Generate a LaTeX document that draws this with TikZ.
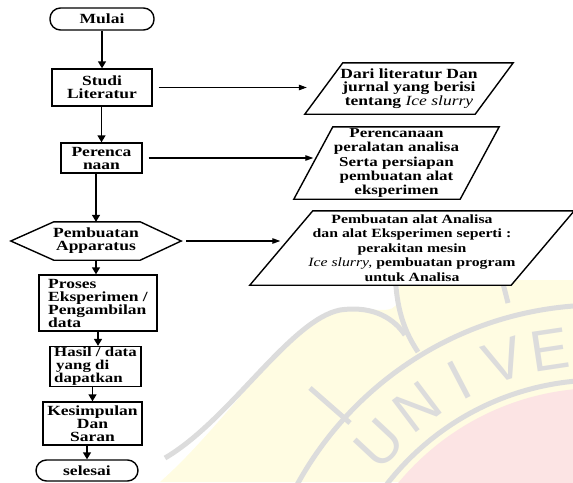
\documentclass[tikz,border=0pt]{standalone}
\usepackage{fontspec}
\setmainfont{Liberation Serif}[FakeStretch=1.25]
\setsansfont{Liberation Sans}
\usetikzlibrary{arrows.meta,calc}
\pgfdeclarelayer{bg}
\pgfsetlayers{bg,main}

\definecolor{wmY}{HTML}{FFFCE2}
\definecolor{wmG}{HTML}{DCDCDC}
\definecolor{wmP}{HTML}{FCE4E4}

\tikzset{
  lbl/.style={font=\bfseries\fontsize{14}{13}\selectfont, align=center, inner sep=0pt},
  box/.style={lbl, draw, line width=1.4pt, fill=white},
  term/.style={box, rounded corners=10.5pt},
  vflow/.style={line width=1.5pt, -{Triangle[length=7pt,width=8pt]}},
  hflow/.style={line width=1.1pt, -{Triangle[length=8pt,width=5.5pt]}},
  shapeline/.style={line width=1.4pt, fill=white},
  wmline/.style={wmG, line width=5pt},
  wmletter/.style={wmG, font=\sffamily\fontsize{58}{58}\selectfont, inner sep=0pt},
}

\begin{document}
\begin{tikzpicture}[x=1pt,y=-1pt]
\useasboundingbox (0,0) rectangle (573,482);

% ---------- watermark (background) ----------
\begin{pgfonlayer}{bg}
\begin{scope}
\clip (0,0) rectangle (573,482);
\fill[wmY] (160,482) .. controls (230,420) and (290,320) .. (340,310)
  .. controls (370,305) and (395,318) .. (398,300) -- (400,280) -- (573,280) -- (573,482) -- cycle;
\fill[wmP] (600,650) circle[radius=262];
\draw[wmline] (600,650) circle[radius=270];
\draw[wmline] (600,650) circle[radius=345];
\draw[wmline] (165,458) .. controls (230,420) and (290,320) .. (340,310)
  .. controls (375,305) and (395,320) .. (405,335);
\draw[wmline] (395,270) .. controls (396,300) and (400,325) .. (418,352);
\draw[wmline] (497,260) -- (508,303);
\draw[wmline] (310,388) -- (350,423);
\node[wmletter, rotate=47] (wmU) at (379,444) {U};
\node[wmletter, rotate=37] (wmN) at (417,407) {N};
\node[wmletter, rotate=27.5] (wmI) at (459,380) {I};
\node[wmletter, rotate=18] (wmV) at (504,361) {V};
\node[wmletter, rotate=8.5] (wmE) at (550,350) {E};
\end{scope}
\end{pgfonlayer}

% ---------- left column ----------
\node[term, minimum width=104pt, minimum height=22pt] (mulai) at (102,19) {Mulai};
\node[box, minimum width=100pt, minimum height=37pt] (studi) at (102,87.5) {Studi\\Literatur};
\node[box, minimum width=81pt, minimum height=30pt] (peren) at (101.5,158) {Perenca\\naan};
\node[lbl, minimum width=170pt, minimum height=38pt] (hex) at (96,241) {Pembuatan\\Apparatus};
\begin{pgfonlayer}{bg}
\draw[shapeline] (hex.west) -- ([xshift=43pt]hex.north west) -- ([xshift=-41pt]hex.north east)
  -- (hex.east) -- ([xshift=-41pt]hex.south east) -- ([xshift=43pt]hex.south west) -- cycle;
\end{pgfonlayer}
\node[box, align=left, minimum width=118pt, minimum height=56pt] (proses) at (98,303) {Proses\\Eksperimen /\\Pengambilan\\data};
\node[box, align=left, minimum width=91pt, minimum height=38pt, inner ysep=1pt, font=\bfseries\fontsize{13.5}{12.3}\selectfont] (hasil) at (95.5,366.5) {Hasil / data\\\hspace{2pt}yang di\\dapatkan};
\node[box, minimum width=99pt, minimum height=43pt] (kesim) at (92.5,423.5) {Kesimpulan\\Dan\\Saran};
\node[term, minimum width=102pt, minimum height=21pt] (selesai) at (87,470.5) {selesai};

% ---------- right column ----------
\node[lbl, font=\bfseries\fontsize{14}{13.7}\selectfont, minimum width=170pt, minimum height=51pt] (p1) at (409,88.5)
  {Dari literatur Dan\\jurnal yang berisi\\tentang {\mdseries\itshape Ice slurry}};
\node[lbl, font=\bfseries\fontsize{13.6}{14.25}\selectfont, minimum width=166pt, minimum height=72pt] (p2) at (396.5,163)
  {Perencanaan\\peralatan analisa\\Serta persiapan\\pembuatan alat\\eksperimen};
\node[lbl, font=\bfseries\fontsize{12.6}{14.5}\selectfont, minimum width=261pt, minimum height=74pt] (p3) at (412,248)
  {Pembuatan alat Analisa\\dan alat Eksperimen seperti :\\perakitan mesin\\{\mdseries\itshape Ice slurry,} pembuatan program\\untuk Analisa};
\begin{pgfonlayer}{bg}
\draw[shapeline] ([xshift=19pt]p1.north west) -- ([xshift=19pt]p1.north east)
  -- ([xshift=-19pt]p1.south east) -- ([xshift=-19pt]p1.south west) -- cycle;
\draw[shapeline] ([xshift=19.5pt]p2.north west) -- ([xshift=19.5pt]p2.north east)
  -- ([xshift=-19.5pt]p2.south east) -- ([xshift=-19.5pt]p2.south west) -- cycle;
\draw[shapeline] ([xshift=31.5pt]p3.north west) -- ([xshift=31.5pt]p3.north east)
  -- ([xshift=-31.5pt]p3.south east) -- ([xshift=-31.5pt]p3.south west) -- cycle;
\end{pgfonlayer}

% ---------- vertical flow ----------
\draw[vflow] (mulai) -- (studi);
\draw[vflow] (peren.north |- studi.south) -- (peren.north);
\draw[vflow] (hex.north |- peren.south) -- (hex.north);
\draw[vflow] (hex.south) -- (hex.south |- proses.north);
\draw[vflow] (proses.south) -- (proses.south |- hasil.north);
\draw[vflow] (kesim.north |- hasil.south) -- (kesim.north);
\draw[vflow] (selesai.north |- kesim.south) -- (selesai.north);

% ---------- horizontal flow ----------
\draw[hflow] ([xshift=6pt]studi.east) -- ($(p1.west |- studi.east)+(-17,0)$);
\draw[hflow] ([xshift=6pt]peren.east) -- (p2.west |- peren.east);
\draw[hflow] ([xshift=5pt]hex.east) -- ($(p3.west |- hex.east)+(-1,0)$);
\end{tikzpicture}
\end{document}
